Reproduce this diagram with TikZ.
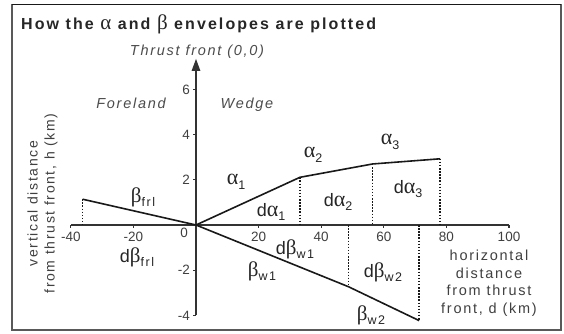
\documentclass[tikz,border=0pt]{standalone}
\usepackage{fontspec}
\setmainfont{Liberation Sans}
\newfontfamily\grk{Liberation Serif}
\newfontfamily\trk[LetterSpace=12]{Liberation Sans}
\newfontfamily\ttrk[LetterSpace=13]{Liberation Sans}
\usetikzlibrary{arrows.meta}
\newcommand\galpha{{\grk\fontsize{22}{22}\selectfont α}}
\newcommand\gbeta{{\grk\fontsize{21}{21}\selectfont β}}
\newcommand\mkd{{\trk\fontsize{18}{18}\selectfont d}}
\newcommand\subl[1]{\raisebox{-4.5pt}{\trk\fontsize{12.5}{12.5}\selectfont #1}}
\tikzset{
  frame/.style={draw=black!65, line width=1.5pt},
  axisline/.style={draw=black!80, line width=1.3pt},
  curve/.style={draw=black!90, line width=1.6pt, line join=round},
  dotline/.style={draw=black!90, line width=1.5pt, dash pattern=on 1.5pt off 1.6pt},
  ticklab/.style={inner sep=0pt, text=black!75, font=\fontsize{13.5}{13.5}\selectfont},
  ital/.style={inner sep=0pt, text=black!70, font=\trk\itshape\fontsize{14.5}{14.5}\selectfont},
  glab/.style={inner sep=0pt, text=black!85},
  desc/.style={inner sep=0pt, text=black!75, align=center, font=\trk\fontsize{14.5}{17.5}\selectfont},
  vdesc/.style={inner sep=0pt, text=black!75, align=center, font=\trk\fontsize{14}{17}\selectfont},
}
\begin{document}
\begin{tikzpicture}[x=1pt,y=-1pt]
\useasboundingbox (0,0) rectangle (564,334);
\fill[white] (0,0) rectangle (564,334);
\draw[frame] (12,4.5) rectangle (561,330);
\draw[black!90, line width=1.5pt] (12,4.5) -- (561,4.5);

\node[anchor=base west, inner sep=0pt, text=black!85] (title) at (21,30)
  {\ttrk\bfseries\fontsize{16}{16}\selectfont How the {\grk\mdseries\fontsize{21}{21}\selectfont α} and {\grk\mdseries\fontsize{21}{21}\selectfont β} envelopes are plotted};

\begin{scope}[shift={(196,225)}, x=3.13pt, y=22.6pt]
  \coordinate (O) at (0,0);
  \coordinate (xmin) at (-40,0);
  \coordinate (xmax) at (100,0);
  \coordinate (ymin) at (0,-4);
  \coordinate (ymax) at (0,7.35);
  \coordinate (F) at (-36.2,1.14);
  \coordinate (Fb) at (-36.2,0);
  \coordinate (A1) at (33.2,2.11);
  \coordinate (A1b) at (33.2,0);
  \coordinate (A2) at (56.4,2.70);
  \coordinate (A2b) at (56.4,0);
  \coordinate (A3) at (78.0,2.93);
  \coordinate (A3b) at (78.0,0);
  \coordinate (B1) at (48.7,-2.73);
  \coordinate (B1b) at (48.7,0);
  \coordinate (B2) at (71.3,-4.23);
  \coordinate (B2b) at (71.3,0);

  \draw[axisline] (xmin) -- (xmax);
  \draw[axisline, -{Triangle[length=12pt,width=8.5pt]}] (ymin) -- (ymax);
  \foreach \d in {-40,-20,20,40,60,80,100} {
    \draw[black!80, line width=1.1pt] (\d,0) -- ++(0pt,-3pt);
    \node[ticklab, anchor=north] (xt\d) at ([yshift=-7pt]\d,0) {\d};
  }
  \foreach \h in {-4,-2,2,4,6} {
    \draw[black!80, line width=1.1pt] (0,\h) -- ++(-3pt,0pt);
    \node[ticklab, anchor=east] (yt\h) at ([xshift=-6pt]0,\h) {\h};
  }
  \node[ticklab, anchor=north east] (zero) at ([xshift=-8pt,yshift=-3pt]O) {0};

  \draw[dotline] (F) -- (Fb);
  \draw[dotline] (A1) -- (A1b);
  \draw[dotline] (A2) -- (A2b);
  \draw[dotline] (A3) -- (A3b);
  \draw[dotline] (B1b) -- (B1);
  \draw[dotline] (B2b) -- (B2);

  \draw[curve] (F) -- (O);
  \draw[curve] (O) -- (A1) -- (A2) -- (A3);
  \draw[curve] (O) -- (B1) -- (B2);
\end{scope}

\node[ital, anchor=base] (tf) at (197,56) {Thrust front (0,0)};
\node[ital, anchor=base] (foreland) at (131,108) {Foreland};
\node[ital, anchor=base] (wedge) at (247,108) {Wedge};

\node[glab] (lbfrl) at (143,197) {\gbeta\subl{frl}};
\node[glab] (ldbfrl) at (137,257) {\mkd\gbeta\subl{frl}};
\node[glab] (la1) at (236,182) {\galpha\subl{1}};
\node[glab] (lda1) at (271,212) {\mkd\galpha\subl{1}};
\node[glab] (la2) at (313,155) {\galpha\subl{2}};
\node[glab] (lda2) at (338,202) {\mkd\galpha\subl{2}};
\node[glab] (la3) at (390,142) {\galpha\subl{3}};
\node[glab] (lda3) at (408,189) {\mkd\galpha\subl{3}};
\node[glab] (ldbw1) at (295,249) {\mkd\gbeta\subl{w1}};
\node[glab] (lbw1) at (262,271) {\gbeta\subl{w1}};
\node[glab] (ldbw2) at (383,272) {\mkd\gbeta\subl{w2}};
\node[glab] (lbw2) at (371,315) {\gbeta\subl{w2}};

\node[desc] (hlab) at (489,283) {horizontal\\distance\\from thrust\\front, d (km)};
\node[vdesc, rotate=90] (vlab) at (42.5,203.5) {vertical distance\\from thrust front, h (km)};
\end{tikzpicture}
\end{document}
